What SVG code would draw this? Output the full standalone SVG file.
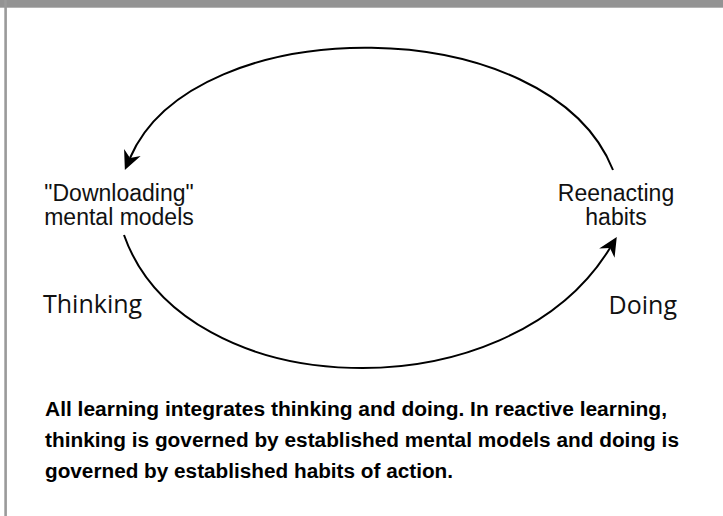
<svg xmlns="http://www.w3.org/2000/svg" width="723" height="516" viewBox="0 0 723 516">
  <style>
    .lbl { font-family: "Liberation Sans", Arial, sans-serif; font-size: 23px; fill: #111; }
    .big { font-family: "Open Sans", "Noto Sans", sans-serif; font-size: 25px; fill: #111; }
    .cap { font-family: "Liberation Sans", Arial, sans-serif; font-size: 19.5px; font-weight: bold; fill: #000; }
    .conn { fill: none; stroke: #000; stroke-width: 2; }
  </style>
  <defs>
    <marker id="arrow" markerUnits="userSpaceOnUse" viewBox="-8 -11 24 22" refX="0" refY="0" markerWidth="24" markerHeight="22" orient="auto" overflow="visible">
      <path d="M13,0 L-6,-9 L0,0 L-6,9 Z" fill="#000"/>
    </marker>
  </defs>
  <rect x="0" y="0" width="723" height="516" fill="#fff"/>
  <g id="frame">
    <rect x="0" y="0" width="723" height="7.7" fill="#939393"/>
    <rect x="4.3" y="0" width="2.6" height="516" fill="#9a9a9a"/>
  </g>
  <g id="connectors">
    <path class="conn" d="M613,170 C549,9 194,9 130,158" marker-end="url(#arrow)"/>
    <path class="conn" d="M124,235 C184,405 508,415 610,248" marker-end="url(#arrow)"/>
  </g>
  <g id="node-downloading">
    <text class="lbl" x="119" y="201" text-anchor="middle">"Downloading"</text>
    <text class="lbl" x="119" y="224.5" text-anchor="middle">mental models</text>
  </g>
  <g id="node-reenacting">
    <text class="lbl" x="616" y="201" text-anchor="middle">Reenacting</text>
    <text class="lbl" x="616" y="224.5" text-anchor="middle">habits</text>
  </g>
  <g id="label-thinking">
    <text class="big" x="43" y="313">Thinking</text>
  </g>
  <g id="label-doing">
    <text class="big" x="677" y="314" text-anchor="end">Doing</text>
  </g>
  <g id="caption">
    <text class="cap" x="45" y="416" textLength="622" lengthAdjust="spacingAndGlyphs">All learning integrates thinking and doing. In reactive learning,</text>
    <text class="cap" x="45" y="447" textLength="634" lengthAdjust="spacingAndGlyphs">thinking is governed by established mental models and doing is</text>
    <text class="cap" x="45" y="478" textLength="408" lengthAdjust="spacingAndGlyphs">governed by established habits of action.</text>
  </g>
</svg>
